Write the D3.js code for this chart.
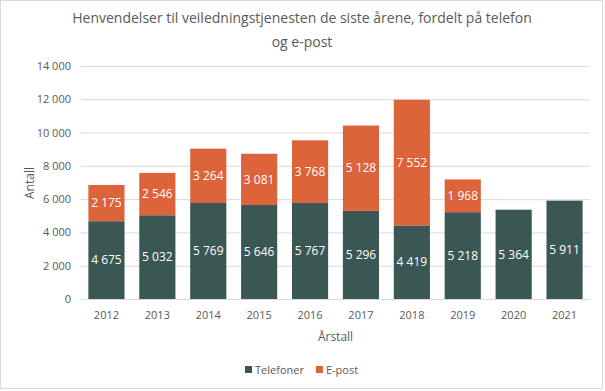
<!DOCTYPE html>
<html>
<head>
<meta charset="utf-8">
<script src="https://cdn.jsdelivr.net/npm/d3@7"></script>
<style>
  body { margin: 0; background: #fff; }
  text { font-family: "Open Sans", sans-serif; }
</style>
</head>
<body>
<svg id="chart" width="605" height="391"></svg>
<script>
// Data
const years = ['2012', '2013', '2014', '2015', '2016', '2017', '2018', '2019', '2020', '2021']
const telefoner = [4675, 5032, 5769, 5646, 5767, 5296, 4419, 5218, 5364, 5911]
const epost = [2175, 2546, 3264, 3081, 3768, 5128, 7552, 1968, null, null]
const yTicks = [0, 2000, 4000, 6000, 8000, 10000, 12000, 14000]

const colTel = '#3b5753'
const colEpost = '#dd633a'
const grey = '#595959'

const svg = d3.select('#chart')
const W = 605, H = 391
const m = { left: 81, right: 590, top: 66, bottom: 299 }

// chart border
svg.append('rect')
  .attr('x', 0.5).attr('y', 0.5)
  .attr('width', W - 3).attr('height', H - 3)
  .attr('fill', '#fff').attr('stroke', '#d9d9d9')

const fmt = v => d3.format(',')(v).replace(/,/g, '\u00a0')

const x = d3.scaleBand().domain(years).range([m.left, m.right]).paddingInner(0.29).paddingOuter(0.145)
const y = d3.scaleLinear().domain([0, 14000]).range([m.bottom, m.top])

// gridlines
svg.append('g')
  .selectAll('line')
  .data(yTicks)
  .join('line')
  .attr('x1', m.left).attr('x2', m.right)
  .attr('y1', d => y(d) + 0.5).attr('y2', d => y(d) + 0.5)
  .attr('stroke', '#d9d9d9')

// y axis labels
const yAxis = svg.append('g')
  .attr('transform', `translate(${m.left - 10},0)`)
  .call(d3.axisLeft(y).tickValues(yTicks).tickSize(0).tickPadding(0).tickFormat(fmt))
yAxis.select('.domain').remove()
yAxis.selectAll('text').attr('fill', grey).style('font-size', '11px').style('font-family', '"Open Sans", sans-serif')

// x axis labels
const xAxis = svg.append('g')
  .attr('transform', `translate(0,${m.bottom})`)
  .call(d3.axisBottom(x).tickSize(0).tickPadding(12))
xAxis.select('.domain').remove()
xAxis.selectAll('text').attr('fill', grey).style('font-size', '11px').style('font-family', '"Open Sans", sans-serif')

// stacked bars
const rows = years.map((yr, i) => ({ year: yr, tel: telefoner[i], ep: epost[i] || 0 }))
const stack = d3.stack().keys(['tel', 'ep'])(rows)
const colors = { tel: colTel, ep: colEpost }

stack.forEach(layer => {
  const g = svg.append('g')
  g.selectAll('rect')
    .data(layer.filter(d => d[1] > d[0]))
    .join('rect')
    .attr('x', d => x(d.data.year))
    .attr('width', x.bandwidth())
    .attr('y', d => y(d[1]))
    .attr('height', d => y(d[0]) - y(d[1]))
    .attr('fill', colors[layer.key])
  g.selectAll('text')
    .data(layer.filter(d => d[1] > d[0]))
    .join('text')
    .attr('x', d => x(d.data.year) + x.bandwidth() / 2)
    .attr('y', d => (y(d[0]) + y(d[1])) / 2)
    .attr('dy', '0.35em')
    .attr('text-anchor', 'middle')
    .attr('fill', '#fff')
    .style('font-size', '12px')
    .text(d => fmt(d[1] - d[0]))
})

// baseline
svg.append('line')
  .attr('x1', m.left).attr('x2', m.right)
  .attr('y1', m.bottom + 0.5).attr('y2', m.bottom + 0.5)
  .attr('stroke', '#d9d9d9')

// title
const title = svg.append('text')
  .attr('text-anchor', 'middle')
  .attr('fill', grey)
  .style('font-size', '14px')
title.append('tspan').attr('x', 302).attr('y', 23).text('Henvendelser til veiledningstjenesten de siste årene, fordelt på telefon')
title.append('tspan').attr('x', 302).attr('y', 47).text('og e-post')

// axis titles
svg.append('text')
  .attr('transform', 'translate(34,183) rotate(-90)')
  .attr('text-anchor', 'middle')
  .attr('fill', grey)
  .style('font-size', '12px')
  .text('Antall')

svg.append('text')
  .attr('x', (m.left + m.right) / 2).attr('y', 341)
  .attr('text-anchor', 'middle')
  .attr('fill', grey)
  .style('font-size', '12px')
  .text('Årstall')

// legend
const legend = [{ name: 'Telefoner', color: colTel }, { name: 'E-post', color: colEpost }]
const lg = svg.append('g').attr('transform', 'translate(245,370)')
let lx = 0
legend.forEach(item => {
  lg.append('rect').attr('x', lx).attr('y', -4).attr('width', 7).attr('height', 7).attr('fill', item.color)
  const t = lg.append('text').attr('x', lx + 10).attr('y', 0).attr('dy', '0.35em')
    .attr('fill', grey).style('font-size', '11px').text(item.name)
  lx += 10 + t.node().getComputedTextLength() + 12
})
</script>
</body>
</html>
